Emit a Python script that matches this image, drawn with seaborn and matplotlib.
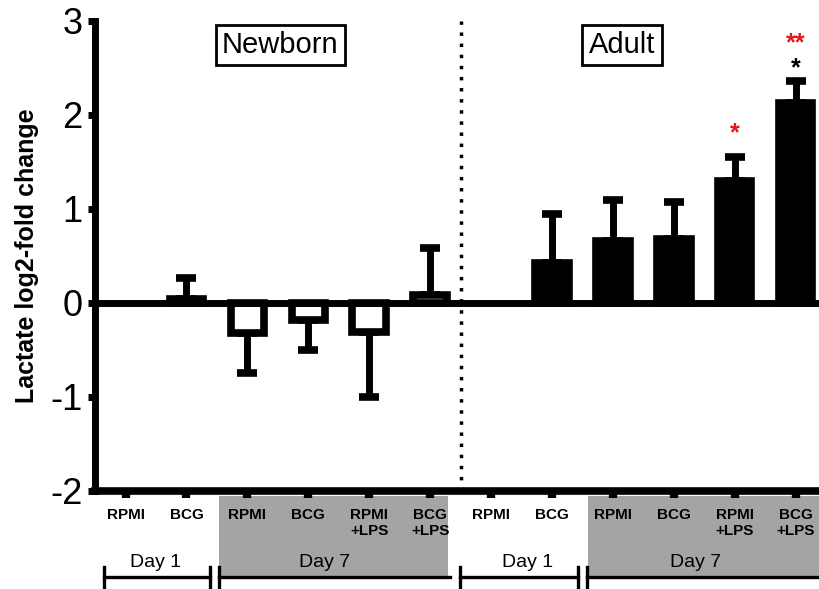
import numpy as np
import pandas as pd
import matplotlib
matplotlib.use("Agg")
import matplotlib.pyplot as plt
import matplotlib.transforms as mtransforms
from matplotlib.patches import Rectangle
from matplotlib.lines import Line2D
import seaborn as sns

# ---------------- data ----------------
conditions = ["RPMI", "BCG", "RPMI", "BCG", "RPMI\n+LPS", "BCG\n+LPS"]
days = ["Day 1", "Day 1", "Day 7", "Day 7", "Day 7", "Day 7"]
newborn_values = [0.0, 0.04, -0.32, -0.18, -0.31, 0.09]
newborn_sem = [0.0, 0.23, 0.42, 0.32, 0.69, 0.50]
adult_values = [0.0, 0.43, 0.66, 0.68, 1.30, 2.13]
adult_sem = [0.0, 0.52, 0.44, 0.39, 0.25, 0.23]
groups = ["Newborn", "Adult"]

# ---------------- build table ----------------
rows = []
for g, vals, sems in [("Newborn", newborn_values, newborn_sem), ("Adult", adult_values, adult_sem)]:
    for k, (c, v, s) in enumerate(zip(conditions, vals, sems)):
        rows.append({"id": f"{g}_{k}", "group": g, "cond": c, "value": v, "sem": s})
df = pd.DataFrame(rows)
order = list(df["id"])

plt.rcParams["font.family"] = ["Liberation Sans", "DejaVu Sans"]

fig = plt.figure(figsize=(8.2, 5.89), dpi=100)
ax = fig.add_axes([0.116, 0.1664, 0.884, 0.798])

# error bars (one-sided, away from zero)
pos = np.arange(len(df))
vals = df["value"].to_numpy()
sems = df["sem"].to_numpy()
mask = sems > 0
lower = np.where(vals < 0, sems, 0.0)
upper = np.where(vals >= 0, sems, 0.0)
ax.errorbar(pos[mask], vals[mask], yerr=[lower[mask], upper[mask]], fmt="none",
            ecolor="black", elinewidth=5, capsize=7.5, capthick=5.5, zorder=1)

sns.barplot(data=df, x="id", y="value", hue="group", order=order,
            palette={"Newborn": "white", "Adult": "black"}, dodge=False,
            width=0.55, edgecolor="black", linewidth=5.5, legend=False,
            errorbar=None, ax=ax, zorder=3)
for p in ax.patches:
    if abs(p.get_height()) < 1e-9:
        p.set_visible(False)

ax.axhline(0, color="black", lw=5, zorder=4)
ax.axvline(5.5, color="black", lw=2.5, ls=(0, (1, 2.2)), zorder=2)

ax.set_xlim(-0.5, 11.4)
ax.set_ylim(-2, 3)
ax.set_yticks([-2, -1, 0, 1, 2, 3])
ax.set_yticklabels(["-2", "-1", "0", "1", "2", "3"], fontsize=26)
ax.set_xticks(pos)
ax.set_xticklabels(list(df["cond"]), fontsize=11, fontweight="bold", linespacing=1.25)
ax.set_xlabel("")
ax.set_ylabel("Lactate log2-fold change", fontsize=18, fontweight="bold", labelpad=8)

for s in ["top", "right"]:
    ax.spines[s].set_visible(False)
ax.spines["left"].set_linewidth(5)
ax.spines["bottom"].set_linewidth(5.5)
ax.tick_params(axis="y", direction="out", length=5, width=5, pad=4)
ax.tick_params(axis="x", direction="out", length=5, width=6, pad=7)

trans = mtransforms.blended_transform_factory(ax.transData, ax.transAxes)

# group titles
for x, t in [(2.54, "Newborn"), (8.15, "Adult")]:
    ax.text(x, 0.949, t, transform=trans, ha="center", va="center", fontsize=21,
            bbox=dict(boxstyle="square,pad=0.22", fc="white", ec="black", lw=2), zorder=5)

# gray Day-7 regions under the axis
gray = "#a4a4a4"
for x0, x1 in [(1.54, 5.30), (7.59, 11.45)]:
    ax.add_patch(Rectangle((x0, -0.187), x1 - x0, 0.176, transform=trans, clip_on=False,
                           fc=gray, ec="none", zorder=0))

# day labels and brackets
for x, t in [(0.49, "Day 1"), (3.26, "Day 7"), (6.6, "Day 1"), (9.36, "Day 7")]:
    ax.text(x, -0.153, t, transform=trans, ha="center", va="center", fontsize=14, clip_on=False)

yb = -0.183
for x0, x1, right_tick in [(-0.36, 1.38, True), (1.54, 5.33, False), (5.49, 7.43, True), (7.57, 11.45, False)]:
    ax.add_line(Line2D([x0, x1], [yb, yb], transform=trans, color="black", lw=2.4, clip_on=False))
    ax.add_line(Line2D([x0, x0], [-0.162, -0.215], transform=trans, color="black", lw=2.4, clip_on=False))
    if right_tick:
        ax.add_line(Line2D([x1, x1], [-0.162, -0.215], transform=trans, color="black", lw=2.4, clip_on=False))

# significance stars
ax.text(10, 1.81, "*", color="#e8141c", fontsize=18, ha="center", va="center", fontweight="bold")
ax.text(11, 2.76, "**", color="#e8141c", fontsize=18, ha="center", va="center", fontweight="bold")
ax.text(11, 2.50, "*", color="black", fontsize=18, ha="center", va="center", fontweight="bold")

fig.savefig("out.png", dpi=100)
